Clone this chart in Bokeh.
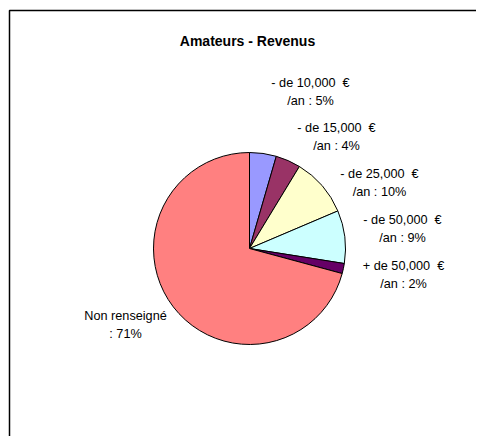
import math
from bokeh.plotting import figure
from bokeh.models import Range1d, ColumnDataSource
from bokeh.core.properties import value
from bokeh.embed import file_html
from bokeh.resources import INLINE

# ---- data ----
categories = ["- de 10,000 \u00a0€\n/an", "- de 15,000 \u00a0€\n/an", "- de 25,000 \u00a0€\n/an",
              "- de 50,000 \u00a0€\n/an", "+ de 50,000 \u00a0€\n/an", "Non renseigné\n"]
values = [4.5, 4.2, 9.9, 8.9, 1.7, 70.8]
pct_labels = ["5%", "4%", "10%", "9%", "2%", "71%"]
colors = ["#9999FF", "#993366", "#FFFFCC", "#CCFFFF", "#660066", "#FF8080"]
title_text = "Amateurs - Revenus"

# ---- layout (pixel coords of the image; y measured from top) ----
W, H = 476, 436
def Y(py):
    return H - py

cx, cy, r = 249, 248, 96
label_pos = [(310, 82), (336, 127), (379, 173), (402, 219), (403, 265), (125, 315)]
line_gap = 18

p = figure(width=W, height=H, output_backend="svg", toolbar_location=None,
           x_range=Range1d(0, W), y_range=Range1d(0, H),
           min_border=0, outline_line_color=None)
p.axis.visible = False
p.grid.visible = False
p.background_fill_color = "white"
p.border_fill_color = "white"

# chart border: left and top edges (the rest lies outside the window)
p.line(x=[9, 9, W + 5], y=[-5, Y(10), Y(10)], line_color="black", line_width=1.5)

# wedges
total = sum(values)
starts, ends = [], []
acc = 0.0
for v in values:
    a0 = math.pi / 2 - 2 * math.pi * acc / total
    acc += v
    a1 = math.pi / 2 - 2 * math.pi * acc / total
    starts.append(a0)
    ends.append(a1)

src = ColumnDataSource(dict(start=starts, end=ends, color=colors))
p.wedge(x=cx, y=Y(cy), radius=r, start_angle="start", end_angle="end",
        direction="clock", fill_color="color", line_color="black", line_width=1,
        source=src)

# labels
line1, line2, lx, ly1, ly2 = [], [], [], [], []
for cat, pl, (x, y) in zip(categories, pct_labels, label_pos):
    a, b = cat.split("\n")
    line1.append(a)
    line2.append((b + " : " + pl) if b else ": " + pl)
    lx.append(x)
    ly1.append(Y(y))
    ly2.append(Y(y + line_gap))

p.text(x=lx, y=ly1, text=line1, text_align="center", text_baseline="middle",
       text_font=value("Liberation Sans"), text_font_size="12.7px", text_color="black")
p.text(x=lx, y=ly2, text=line2, text_align="center", text_baseline="middle",
       text_font=value("Liberation Sans"), text_font_size="12.7px", text_color="black")

# title
p.text(x=[247], y=[Y(40)], text=[title_text], text_align="center", text_baseline="middle",
       text_font=value("Liberation Sans"), text_font_size="14px", text_font_style="bold",
       text_color="black")

open("out.html", "w").write(file_html(p, INLINE))
